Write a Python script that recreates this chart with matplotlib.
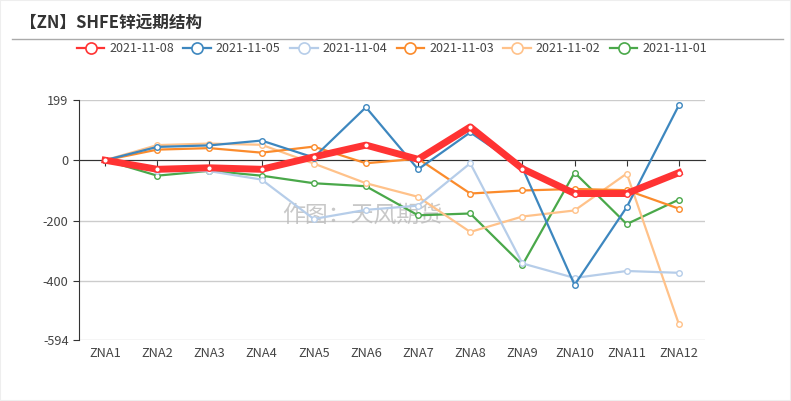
import numpy as np
import matplotlib
matplotlib.use("Agg")
import matplotlib.pyplot as plt
from matplotlib.patches import Rectangle
from matplotlib.lines import Line2D

plt.rcParams['font.family'] = ['Noto Sans CJK SC', 'DejaVu Sans']

categories = ["ZNA1", "ZNA2", "ZNA3", "ZNA4", "ZNA5", "ZNA6",
              "ZNA7", "ZNA8", "ZNA9", "ZNA10", "ZNA11", "ZNA12"]
dates = ["2021-11-08", "2021-11-05", "2021-11-04",
         "2021-11-03", "2021-11-02", "2021-11-01"]

s_1108 = [0, -30, -25, -30, 11, 50, 3, 110, -28, -110, -110, -41]
s_1105 = [0, 44, 49, 65, 9, 175, -30, 92, -25, -412, -155, 182]
s_1104 = [0, -36, -36, -64, -194, -164, -150, -10, -341, -389, -366, -372]
s_1103 = [0, 35, 40, 25, 45, -10, 5, -110, -100, -95, -99, -160]
s_1102 = [0, 50, 55, 51, -11, -76, -121, -237, -186, -166, -44, -542]
s_1101 = [0, -51, -35, -51, -76, -86, -182, -176, -346, -41, -211, -130]

series = [s_1108, s_1105, s_1104, s_1103, s_1102, s_1101]
colors = ["#ff3333", "#3d87bf", "#b6cde9", "#fb8b2c", "#ffc28a", "#4aa84a"]
widths = [5, 1.6, 1.6, 1.6, 1.6, 1.6]

y_ticks = [-594, -400, -200, 0, 199]

fig = plt.figure(figsize=(7.91, 4.01), dpi=100)
ax = fig.add_axes([79 / 791, 1 - 340 / 401, 626 / 791, 240 / 401])

x = np.arange(len(categories))
# draw oldest first so the red line is on top
for i in reversed(range(len(series))):
    ax.plot(x, series[i], color=colors[i], lw=widths[i], marker='o',
            markersize=4, markerfacecolor='white', markeredgecolor=colors[i],
            markeredgewidth=1, zorder=3 + (len(series) - i), solid_joinstyle='round')

ax.set_xlim(-0.5, len(categories) - 0.5)
ax.set_ylim(-594, 199)
ax.set_yticks(y_ticks)
ax.set_yticklabels([str(v) for v in y_ticks])
ax.grid(axis='y', color='#cccccc', lw=1, zorder=0)
ax.set_axisbelow(True)

for s in ['top', 'right']:
    ax.spines[s].set_visible(False)
ax.spines['left'].set_color('#333333')
ax.spines['bottom'].set_position(('data', 0))
ax.spines['bottom'].set_color('#333333')
ax.spines['bottom'].set_zorder(2)
ax.set_xticks(x)
ax.tick_params(axis='x', length=4, color='#333333', labelbottom=False)
ax.tick_params(axis='y', length=4, color='#333333', labelcolor='#444444', labelsize=9.2)

sec = ax.secondary_xaxis(0)
sec.set_xticks(x)
sec.set_xticklabels(categories)
sec.tick_params(length=0, labelcolor='#444444', labelsize=9.2, pad=5)
sec.spines['bottom'].set_visible(False)

ax.text(0.452, 0.52, "作图：天风期货", transform=ax.transAxes, ha='center', va='center',
        fontsize=16.5, color='#bbbbbb', alpha=0.8, zorder=1)

fig.text(20 / 791, 1 - 23 / 401, "【ZN】SHFE锌远期结构", fontsize=12, fontweight='bold',
         color='#333333', va='center', ha='left')
fig.add_artist(Line2D([12 / 791, 783 / 791], [1 - 39 / 401, 1 - 39 / 401],
                      color='#aaaaaa', lw=1))

handles = [Line2D([0], [0], color=c, lw=1.6, marker='o', markersize=8,
                  markerfacecolor='white', markeredgecolor=c, markeredgewidth=1.2)
           for c in colors]
fig.legend(handles, dates, loc='center', bbox_to_anchor=(392 / 791, 1 - 49 / 401),
           ncol=6, frameon=False, fontsize=9, handlelength=2.2, handletextpad=0.4,
           columnspacing=0.75, labelcolor='#444444')

fig.add_artist(Rectangle((0, 0), 1, 1, transform=fig.transFigure, fill=False,
                         edgecolor='#eeeeee', lw=1.5))

fig.savefig("out.png", dpi=100)
